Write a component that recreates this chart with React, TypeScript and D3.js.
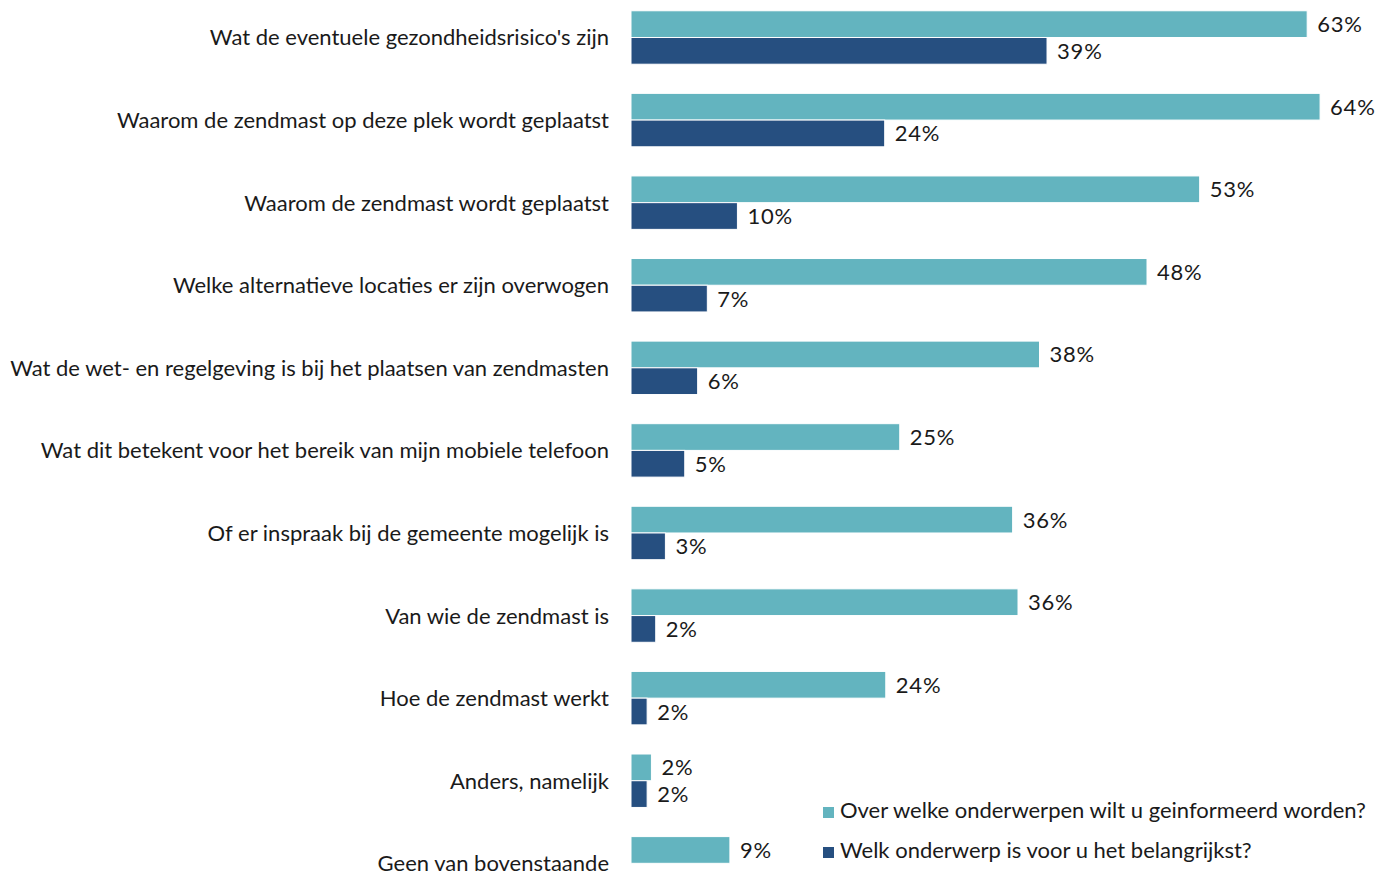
import { useEffect, useRef } from 'react'
import * as d3 from 'd3'

const categories = [
  "Wat de eventuele gezondheidsrisico's zijn",
  'Waarom de zendmast op deze plek wordt geplaatst',
  'Waarom de zendmast wordt geplaatst',
  'Welke alternatieve locaties er zijn overwogen',
  'Wat de wet- en regelgeving is bij het plaatsen van zendmasten',
  'Wat dit betekent voor het bereik van mijn mobiele telefoon',
  'Of er inspraak bij de gemeente mogelijk is',
  'Van wie de zendmast is',
  'Hoe de zendmast werkt',
  'Anders, namelijk',
  'Geen van bovenstaande',
]

const seriesNames = [
  'Over welke onderwerpen wilt u geinformeerd worden?',
  'Welk onderwerp is voor u het belangrijkst?',
]

// percentages (labels are rounded)
const informedValues = [62.9, 64.1, 52.9, 48.0, 38.0, 25.0, 35.5, 36.0, 23.7, 1.9, 9.2]
const importantValues: (number | null)[] = [38.7, 23.6, 9.9, 7.1, 6.2, 5.0, 3.2, 2.3, 1.5, 1.5, null]

const colors = ['#63b4bf', '#264f80']

const width = 1378
const height = 874
const fontFamily = 'Lato, "Open Sans", sans-serif'

export default function App() {
  const svgRef = useRef<SVGSVGElement>(null)

  useEffect(() => {
    if (!svgRef.current) return
    const svg = d3.select(svgRef.current)
    svg.selectAll('*').remove()

    const x = d3.scaleLinear().domain([0, 100]).range([631, 631 + 1075])

    const y = d3
      .scaleBand<string>()
      .domain(categories)
      .range([-3.8, 904.6])
      .paddingInner(0.353)
      .paddingOuter(0.1765)

    const sub = d3
      .scaleBand<number>()
      .domain([0, 1])
      .range([0, y.bandwidth()])

    const series = [informedValues, importantValues]

    // Category labels
    svg
      .append('g')
      .selectAll('text')
      .data(categories)
      .enter()
      .append('text')
      .attr('x', 609)
      .attr('y', (d) => (y(d) || 0) + y.bandwidth() / 2 + 8)
      .attr('text-anchor', 'end')
      .attr('font-family', fontFamily)
      .attr('font-size', '22px')
      .attr('fill', '#1a1a1a')
      .text((d) => d)

    series.forEach((vals, s) => {
      const rows = categories
        .map((c, i) => ({ c, v: vals[i] }))
        .filter((d) => d.v !== null) as { c: string; v: number }[]

      const g = svg.append('g')

      g.selectAll('rect')
        .data(rows)
        .enter()
        .append('rect')
        .attr('x', x(0))
        .attr('y', (d) => (y(d.c) || 0) + (sub(s) || 0))
        .attr('width', (d) => x(d.v) - x(0))
        .attr('height', sub.bandwidth())
        .attr('fill', colors[s])
        .attr('stroke', '#ffffff')
        .attr('stroke-width', 1)

      g.selectAll('text')
        .data(rows)
        .enter()
        .append('text')
        .attr('x', (d) => x(d.v) + 10)
        .attr('y', (d) => (y(d.c) || 0) + (sub(s) || 0) + sub.bandwidth() / 2 + 8)
        .attr('font-family', fontFamily)
        .attr('font-size', '22px')
        .attr('letter-spacing', '0.8px')
        .attr('fill', '#1a1a1a')
        .text((d) => `${Math.round(d.v)}%`)
    })

    // Legend
    const legend = svg
      .append('g')
      .selectAll('g')
      .data(seriesNames)
      .enter()
      .append('g')
      .attr('transform', (_, i) => `translate(823,${807 + i * 40})`)

    legend
      .append('rect')
      .attr('width', 11)
      .attr('height', 11)
      .attr('fill', (_, i) => colors[i])

    legend
      .append('text')
      .attr('x', 17)
      .attr('y', 11)
      .attr('font-family', fontFamily)
      .attr('font-size', '22px')
      .attr('fill', '#1a1a1a')
      .text((d) => d)
  }, [])

  return (
    <svg
      ref={svgRef}
      width={width}
      height={height}
      style={{ position: 'absolute', left: 0, top: 0, background: '#fff' }}
    />
  )
}
